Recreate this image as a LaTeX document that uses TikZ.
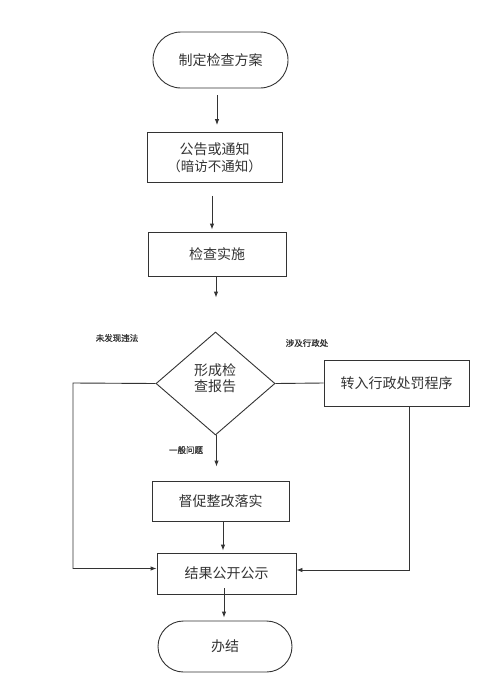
\documentclass[tikz,border=0pt]{standalone}
\usepackage{fontspec}
\newfontfamily\cjk{Noto Sans CJK SC}
\newfontfamily\cjkb{Noto Sans CJK SC}[FakeBold=1]
\usetikzlibrary{shapes.geometric,shapes.misc,arrows.meta}
\definecolor{ink}{HTML}{333333}
\tikzset{
  box/.style={draw=ink, line width=0.9pt, text=ink, font=\cjk\fontsize{14}{18}\selectfont, inner sep=0pt, align=center},
  pill/.style={box, rounded rectangle},
  dia/.style={draw=ink, line width=0.9pt, diamond, inner sep=0pt},
  arr/.style={draw=ink, line width=0.9pt, -{Latex[length=6pt,width=4.5pt]}},
  conn/.style={draw=ink, line width=0.9pt},
  lbl/.style={text=ink, font=\cjkb\fontsize{8.5}{10}\selectfont, inner sep=0pt}
}
\begin{document}
\begin{tikzpicture}[x=1pt,y=-1pt]
\useasboundingbox[fill=white] (0,0) rectangle (480,683);
\node[pill, minimum width=135pt, minimum height=56pt] (start) at (220.5,60) {制定检查方案};
\node[box, minimum width=135pt, minimum height=50pt] (n1) at (214.5,157.5) {公告或通知\\[-1pt]{\fontsize{13.5}{15}\selectfont（暗访不通知）}};
\node[box, minimum width=138pt, minimum height=44pt] (n2) at (217,254) {检查实施};
\node[dia, minimum width=119pt, minimum height=103pt] (d) at (215.5,383.5) {};
\node[box, draw=none, font=\cjk\fontsize{14}{16.5}\selectfont] (dt) at (215,378) {形成检\\查报告};
\node[box, minimum width=145pt, minimum height=46pt] (pen) at (396.5,383) {转入行政处罚程序};
\node[box, minimum width=137pt, minimum height=40pt] (n3) at (220.5,501) {督促整改落实};
\node[box, minimum width=139pt, minimum height=41pt] (n4) at (226.5,573.5) {结果公开公示};
\node[pill, minimum width=134pt, minimum height=51pt] (end) at (225,646.5) {办结};

\node[lbl] (l1) at (117,338) {未发现违法};
\node[lbl] (l2) at (307,343) {涉及行政处};
\node[lbl] (l3) at (186,450) {一般问题};

\coordinate (L) at (73,383);
\coordinate (R) at (409,570);

\draw[arr, shorten <=7pt, shorten >=7pt] ([xshift=-3.5pt]start.south) -- ([xshift=-3.5pt]start.south |- n1.north);
\draw[arr, shorten <=13pt, shorten >=2pt] ([xshift=-2.5pt]n1.south) -- ([xshift=-2.5pt]n1.south |- n2.north);
\draw[arr, shorten >=34pt] ([xshift=-1pt]n2.south) -- ([xshift=-1pt]n2.south |- d.north);
\draw[conn] (d.east) -- (pen.west);
\draw[arr] (d.west) -- (L) |- ([yshift=5pt]n4.west);
\draw[arr] (pen.south -| R) -- (R) -- (n4.east |- R);
\draw[arr, shorten >=14pt] ([xshift=1pt]d.south) -- ([xshift=1pt]d.south |- n3.north);
\draw[arr, shorten >=2pt] ([xshift=2.5pt]n3.south) -- ([xshift=2.5pt]n3.south |- n4.north);
\draw[arr, shorten <=-6pt, shorten >=3pt] ([xshift=-2.5pt]n4.south) -- ([xshift=-2.5pt]n4.south |- end.north);
\end{tikzpicture}
\end{document}
